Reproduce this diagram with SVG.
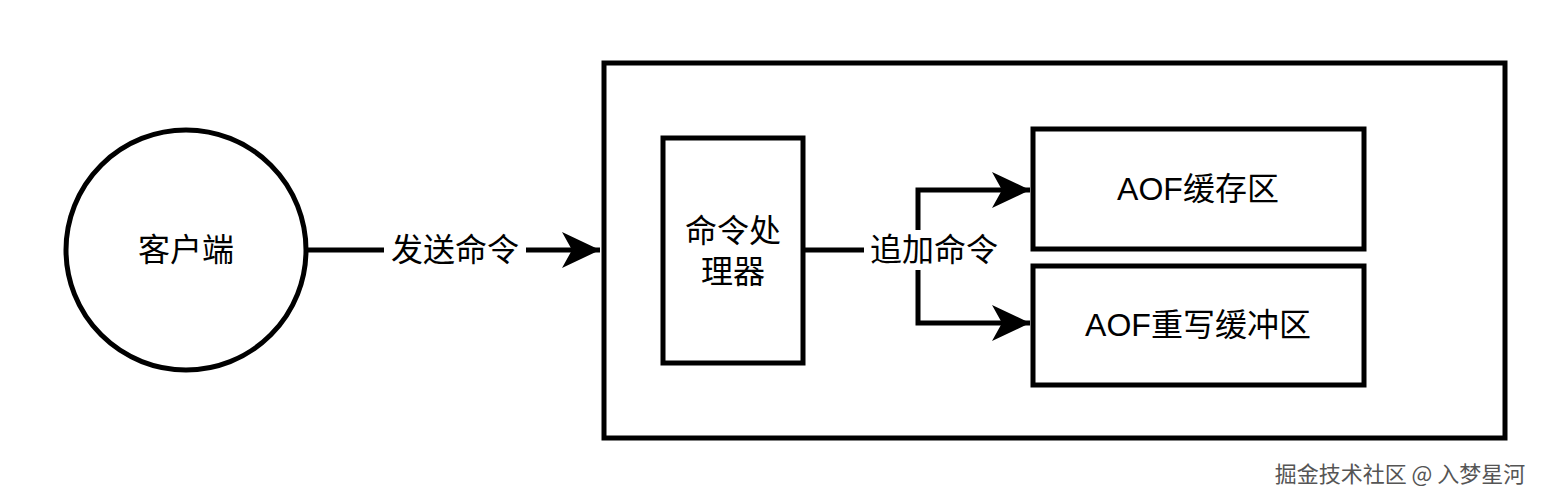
<svg xmlns="http://www.w3.org/2000/svg" width="1566" height="504" viewBox="0 0 1566 504">
<style>
.s{fill:#fff;stroke:#000;stroke-width:5}
.t{font-family:"Liberation Sans","Noto Sans CJK SC",sans-serif;font-size:32px;fill:#000;text-anchor:middle;dominant-baseline:central}
.c{fill:none;stroke:#000;stroke-width:5}
</style>
<defs>
<marker id="b" viewBox="0 0 40 40" markerWidth="40" markerHeight="40" refX="38" refY="20" orient="auto" markerUnits="userSpaceOnUse"><path d="M0,2 L38,20 L0,38 L10,20 Z" fill="#000"/></marker></defs>
<rect width="1566" height="504" fill="#fff"/>
<g id="container"><rect class="s" x="604" y="63" width="901" height="375"/></g>
<g id="client"><circle class="s" cx="186" cy="250" r="120"/><text class="t" x="186" y="250">客户端</text></g>
<g id="processor"><rect class="s" x="663" y="138" width="140" height="225"/><text class="t" x="733" y="231">命令处</text><text class="t" x="733" y="272">理器</text></g>
<g id="aofbuf"><rect class="s" x="1033" y="129" width="331" height="120"/><text class="t" x="1198" y="189">AOF缓存区</text></g>
<g id="aofrw"><rect class="s" x="1033" y="266" width="331" height="119"/><text class="t" x="1198" y="325">AOF重写缓冲区</text></g>
<g id="connectors">
<path class="c" d="M306,250 L600,250" marker-end="url(#b)"/>
<rect x="384" y="230" width="142" height="40" fill="#fff"/>
<text class="t" x="455" y="250">发送命令</text>
<path class="c" d="M803,250 L918,250 L918,190 L1030,190" marker-end="url(#b)"/>
<path class="c" d="M918,250 L918,323 L1030,323" marker-end="url(#b)"/>
<rect x="864" y="230" width="140" height="40" fill="#fff"/>
<text class="t" x="934" y="250">追加命令</text>
</g>
<text x="1400" y="472" font-family="'Noto Sans CJK SC',sans-serif" font-size="22" fill="#555" text-anchor="middle" dominant-baseline="central">掘金技术社区 @ 入梦星河</text>
</svg>
